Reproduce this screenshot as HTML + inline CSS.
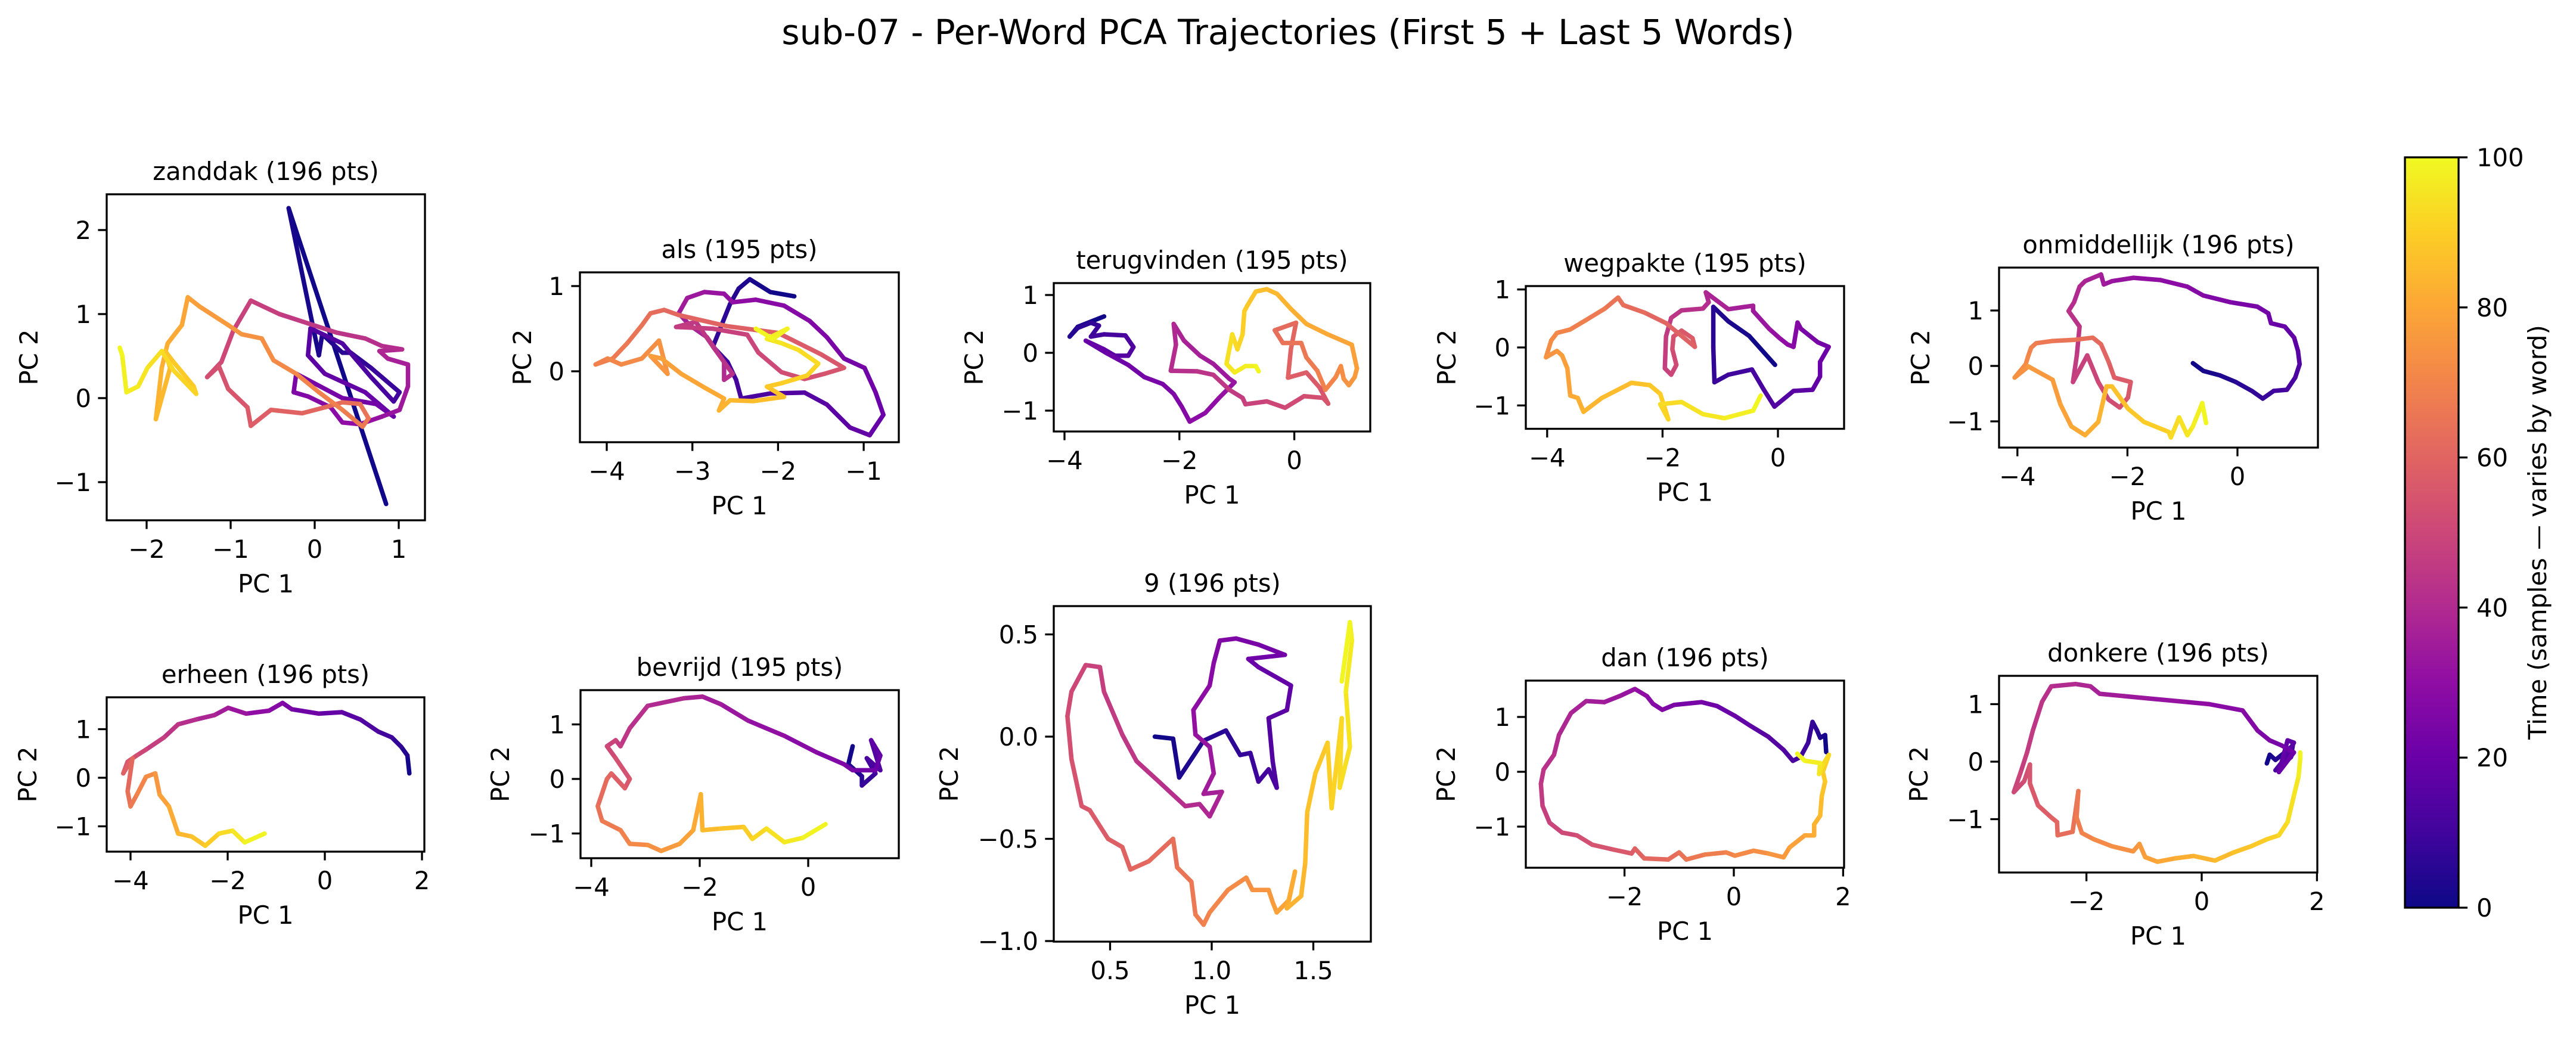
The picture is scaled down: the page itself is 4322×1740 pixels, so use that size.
<!DOCTYPE html>
<html><head><meta charset="utf-8">
<style>
html,body{margin:0;padding:0;background:#fff;}
svg{display:block;font-family:"DejaVu Sans","Liberation Sans",sans-serif;}
</style></head>
<body>
<svg id="fig" width="4322" height="1740" viewBox="0 0 4322 1740" xmlns="http://www.w3.org/2000/svg">
<rect width="4322" height="1740" fill="#fff"/>
<text x="2161" y="74" font-size="58" text-anchor="middle">sub-07 - Per-Word PCA Trajectories (First 5 + Last 5 Words)</text>
<defs>
<linearGradient id="plasma" x1="0" y1="1" x2="0" y2="0">
<stop offset="0" stop-color="#0d0887"/><stop offset="0.1" stop-color="#41049d"/><stop offset="0.2" stop-color="#6a00a8"/><stop offset="0.3" stop-color="#8f0da4"/><stop offset="0.4" stop-color="#b12a90"/><stop offset="0.5" stop-color="#cc4778"/><stop offset="0.6" stop-color="#e16462"/><stop offset="0.7" stop-color="#f2844b"/><stop offset="0.8" stop-color="#fca636"/><stop offset="0.9" stop-color="#fcce25"/><stop offset="1" stop-color="#f0f921"/>
</linearGradient>
</defs>
<g id="panels"></g>
<g>
<rect x="4035" y="264" width="90" height="1259" fill="url(#plasma)" stroke="#000" stroke-width="3.3"/>
<g id="cbticks"></g>
<text x="0" y="0" font-size="41.7" text-anchor="middle" transform="translate(4272,893) rotate(-90)">Time (samples — varies by word)</text>
</g>
</svg>
<script>
// ---- data (PC1 / PC2 trajectories per word) ----
const zanddakX=[0.85,-0.31,0.05,0.09,0.33,0.43,0.67,1.01,0.94,0.67,0.33,-0.05,-0.08,0.12,0.6,0.94,0.73,0.33,-0.22,-0.25,-0.08,0.19,0.33,0.54,0.8,1.01,1.11,1.11,0.87,0.77,1.04,0.8,0.6,0.26,-0.08,-0.42,-0.76,-0.97,-1.11,-1.28,-1.14,-1.03,-0.8,-0.76,-0.52,-0.15,0.12,0.33,0.54,0.64,0.57,0.33,0.05,-0.22,-0.49,-0.63,-0.87,-1.03,-1.37,-1.51,-1.58,-1.75,-1.82,-1.89,-1.72,-1.78,-1.68,-1.44,-1.41,-1.68,-1.82,-1.99,-2.1,-2.24,-2.29,-2.32];
const zanddakY=[-1.26,2.26,0.51,0.76,0.54,0.54,0.36,0.07,-0.04,0.25,0.65,0.83,0.51,0.29,0.07,-0.22,-0.07,0,0.29,0.07,0.02,-0.11,-0.29,-0.31,-0.22,-0.14,0.14,0.4,0.47,0.56,0.58,0.62,0.71,0.78,0.89,1.0,1.16,0.8,0.43,0.25,0.38,0.11,-0.11,-0.33,-0.14,-0.18,-0.11,-0.05,-0.07,-0.24,-0.34,-0.14,0.07,0.29,0.45,0.71,0.76,0.87,1.09,1.2,0.87,0.65,0.36,-0.25,0.36,0.56,0.43,0.14,0.05,0.33,0.56,0.36,0.14,0.07,0.51,0.6];
const alsX=[-1.81,-2.09,-2.33,-2.46,-2.56,-2.66,-2.76,-2.59,-2.49,-2.43,-2.09,-1.69,-1.43,-1.16,-0.93,-0.77,-0.86,-0.99,-1.23,-1.43,-1.63,-1.93,-2.26,-2.53,-2.63,-2.86,-3.06,-3.16,-3.03,-2.83,-2.63,-2.63,-2.53,-2.76,-2.96,-3.19,-2.76,-2.36,-2.23,-1.96,-1.69,-1.46,-1.23,-1.5,-2.0,-2.6,-3.16,-3.33,-3.49,-3.59,-3.76,-3.93,-4.13,-3.99,-3.83,-3.59,-3.39,-3.29,-3.49,-3.36,-3.13,-2.86,-2.63,-2.69,-2.56,-2.29,-1.93,-2.13,-1.96,-1.66,-1.53,-1.76,-1.96,-2.13,-1.89,-2.06,-2.26];
const alsY=[0.88,0.93,1.08,0.97,0.79,0.54,0.29,0.11,-0.1,-0.32,-0.26,-0.25,-0.39,-0.66,-0.75,-0.51,-0.25,0.04,0.15,0.4,0.59,0.77,0.84,0.81,0.91,0.93,0.86,0.68,0.54,0.4,0.11,-0.1,-0.03,0.29,0.58,0.52,0.5,0.43,0.22,-0.01,-0.09,-0.03,0.04,0.2,0.45,0.53,0.66,0.72,0.68,0.54,0.33,0.15,0.08,0.15,0.08,0.15,0.36,-0.03,0.18,0.15,-0.03,-0.19,-0.32,-0.46,-0.34,-0.35,-0.3,-0.18,-0.14,-0.05,0.09,0.25,0.33,0.38,0.5,0.38,0.5];
const terugX=[-3.31,-3.54,-3.77,-3.91,-3.77,-3.54,-3.4,-3.54,-3.31,-2.94,-2.8,-2.89,-3.12,-3.31,-3.63,-3.26,-2.89,-2.61,-2.29,-2.1,-1.96,-1.82,-1.55,-1.31,-1.04,-1.13,-1.41,-1.64,-1.92,-2.1,-2.06,-2.15,-1.69,-1.41,-1.13,-0.9,-0.85,-0.48,-0.16,0.17,0.5,0.59,0.44,0.21,-0.11,-0.06,0.03,-0.34,-0.2,0.12,0.21,0.4,0.54,0.72,0.81,0.86,0.95,1.05,1.09,1.0,0.58,0.21,-0.06,-0.3,-0.48,-0.67,-0.81,-0.87,-0.9,-0.99,-1.08,-1.18,-1.04,-0.85,-0.67,-0.62];
const terugY=[0.63,0.54,0.45,0.28,0.43,0.52,0.47,0.28,0.32,0.3,0.1,-0.05,-0.05,0.06,0.21,-0.01,-0.21,-0.42,-0.54,-0.71,-0.93,-1.19,-1.04,-0.78,-0.51,-0.45,-0.19,-0.05,0.21,0.5,0.14,-0.31,-0.32,-0.38,-0.64,-0.78,-0.89,-0.84,-0.95,-0.75,-0.78,-0.88,-0.6,-0.34,-0.43,0.06,0.52,0.39,0.17,0.17,-0.08,-0.31,-0.64,-0.42,-0.23,-0.45,-0.56,-0.42,-0.27,0.14,0.32,0.5,0.76,1.02,1.1,1.06,0.83,0.72,0.32,0.06,0.32,-0.19,-0.34,-0.23,-0.23,-0.32];
const wegpakteX=[-0.05,-0.5,-0.86,-1.12,-1.12,-1.1,-0.86,-0.45,-0.25,-0.06,0.27,0.6,0.73,0.73,0.88,0.69,0.4,0.34,0.27,0.17,0.03,-0.15,-0.43,-0.43,-0.86,-1.25,-1.2,-1.3,-1.67,-1.85,-1.94,-1.96,-1.85,-1.76,-1.83,-1.81,-1.67,-1.48,-1.44,-1.94,-2.31,-2.68,-2.77,-3.0,-3.33,-3.6,-3.83,-3.93,-4.02,-3.83,-3.74,-3.65,-3.6,-3.47,-3.37,-3.05,-2.54,-2.22,-2.04,-1.9,-2.04,-1.67,-1.3,-0.93,-0.43,-0.3];
const wegpakteY=[-0.3,0.2,0.45,0.7,0.0,-0.6,-0.47,-0.38,-0.72,-1.02,-0.75,-0.73,-0.5,-0.25,0.01,0.09,0.32,0.43,0.01,0.05,0.16,0.32,0.63,0.72,0.66,0.95,0.78,0.67,0.64,0.51,0.19,-0.36,-0.47,-0.3,-0.03,0.19,0.29,0.16,0.01,0.42,0.6,0.73,0.86,0.67,0.47,0.31,0.25,0.12,-0.17,-0.06,-0.14,-0.36,-0.83,-0.87,-1.11,-0.87,-0.61,-0.65,-0.8,-1.24,-0.98,-0.94,-1.15,-1.22,-1.09,-0.83];
const onmidX=[-0.81,-0.62,-0.32,-0.03,0.26,0.46,0.66,0.9,1.05,1.13,1.1,1.03,0.86,0.61,0.56,0.36,-0.13,-0.62,-0.91,-1.4,-1.89,-2.28,-2.43,-2.48,-2.77,-2.87,-2.97,-3.07,-2.87,-2.92,-2.99,-2.73,-2.53,-2.34,-2.14,-1.99,-1.94,-2.24,-2.34,-2.48,-2.63,-2.97,-3.36,-3.66,-3.75,-3.8,-3.85,-4.05,-3.8,-3.36,-3.22,-3.02,-2.77,-2.53,-2.38,-2.28,-1.99,-1.7,-1.25,-1.21,-1.06,-0.91,-0.81,-0.64,-0.57];
const onmidY=[0.05,-0.09,-0.17,-0.29,-0.45,-0.59,-0.45,-0.43,-0.21,0.03,0.27,0.51,0.71,0.77,0.95,1.07,1.15,1.27,1.43,1.55,1.59,1.53,1.47,1.65,1.53,1.43,1.15,0.99,0.71,0.19,-0.29,0.19,-0.29,-0.61,-0.75,-0.57,-0.29,-0.21,0.07,0.39,0.51,0.47,0.45,0.41,0.33,0.19,0.03,-0.21,-0.01,-0.25,-0.69,-1.09,-1.25,-1.01,-0.37,-0.37,-0.77,-1.01,-1.19,-1.29,-0.93,-1.25,-1.09,-0.67,-1.03];
const erheenX=[1.74,1.7,1.57,1.38,1.1,0.73,0.35,-0.12,-0.68,-0.87,-1.15,-1.62,-1.99,-2.27,-2.65,-3.02,-3.31,-3.68,-3.87,-4.06,-4.15,-3.96,-4.06,-4.0,-3.87,-3.68,-3.49,-3.4,-3.21,-3.02,-2.74,-2.46,-2.18,-1.9,-1.65,-1.24];
const erheenY=[0.09,0.46,0.64,0.83,0.95,1.2,1.35,1.32,1.41,1.54,1.38,1.32,1.44,1.29,1.2,1.1,0.83,0.58,0.46,0.33,0.09,0.4,-0.28,-0.59,-0.35,0.02,0.09,-0.35,-0.59,-1.15,-1.21,-1.4,-1.15,-1.09,-1.33,-1.15];
const bevrijdX=[0.82,0.74,0.99,0.99,1.24,1.08,1.33,1.16,1.33,1.24,0.82,0.66,0.15,-0.44,-1.11,-1.61,-1.95,-2.29,-2.96,-3.29,-3.46,-3.55,-3.71,-3.55,-3.29,-3.38,-3.63,-3.71,-3.88,-3.8,-3.46,-3.29,-2.96,-2.71,-2.37,-2.12,-1.98,-1.95,-1.61,-1.19,-1.03,-0.77,-0.44,-0.1,0.32];
const bevrijdY=[0.6,0.27,0.05,-0.12,0.1,0.38,0.16,0.71,0.43,0.16,0.16,0.27,0.49,0.79,1.07,1.37,1.51,1.48,1.34,0.93,0.6,0.71,0.6,0.38,0.0,-0.17,0.1,0.0,-0.5,-0.77,-0.94,-1.19,-1.21,-1.32,-1.19,-0.94,-0.28,-0.94,-0.91,-0.88,-1.1,-0.91,-1.16,-1.08,-0.83];
const nineX=[0.72,0.81,0.84,0.96,1.07,1.14,1.19,1.23,1.28,1.32,1.3,1.28,1.37,1.39,1.23,1.18,1.36,1.23,1.12,1.04,1.01,0.99,0.91,0.92,0.99,1.01,0.96,1.05,0.99,0.94,0.87,0.74,0.63,0.56,0.47,0.45,0.38,0.31,0.29,0.31,0.36,0.4,0.49,0.56,0.6,0.69,0.81,0.83,0.9,0.92,0.96,0.99,1.08,1.17,1.2,1.28,1.3,1.32,1.38,1.41,1.37,1.44,1.46,1.47,1.51,1.57,1.59,1.64,1.63,1.68,1.66,1.69,1.68,1.64];
const nineY=[0.0,-0.01,-0.2,-0.02,0.03,-0.09,-0.08,-0.22,-0.16,-0.25,-0.12,0.09,0.13,0.25,0.34,0.38,0.4,0.45,0.48,0.47,0.36,0.25,0.13,0.01,-0.05,-0.18,-0.28,-0.27,-0.39,-0.33,-0.34,-0.22,-0.12,0.01,0.22,0.34,0.35,0.22,0.1,-0.11,-0.34,-0.36,-0.5,-0.54,-0.65,-0.61,-0.5,-0.64,-0.71,-0.87,-0.92,-0.86,-0.75,-0.69,-0.75,-0.75,-0.81,-0.86,-0.8,-0.66,-0.84,-0.78,-0.62,-0.37,-0.18,-0.03,-0.35,0.09,-0.25,-0.05,0.22,0.47,0.56,0.27];
const danX=[1.69,1.67,1.58,1.52,1.44,1.36,1.22,1.08,0.91,0.63,0.3,0.02,-0.31,-0.59,-1.09,-1.31,-1.48,-1.59,-1.81,-2.09,-2.37,-2.7,-2.98,-3.2,-3.29,-3.48,-3.53,-3.5,-3.37,-3.14,-2.87,-2.59,-2.2,-1.87,-1.81,-1.64,-1.2,-1.0,-0.87,-0.53,-0.14,0.02,0.36,0.63,0.91,1.02,1.3,1.47,1.47,1.58,1.61,1.67,1.63,1.74,1.63,1.56,1.58,1.3,1.16];
const danY=[0.36,0.67,0.62,0.76,0.91,0.53,0.27,0.2,0.4,0.64,0.84,1.02,1.2,1.27,1.22,1.13,1.24,1.38,1.51,1.38,1.27,1.29,1.07,0.67,0.31,0.04,-0.22,-0.62,-0.93,-1.11,-1.16,-1.33,-1.42,-1.49,-1.4,-1.58,-1.6,-1.47,-1.6,-1.51,-1.47,-1.53,-1.44,-1.49,-1.56,-1.38,-1.16,-1.16,-0.96,-0.8,-0.44,-0.18,0.0,0.31,0.13,-0.04,0.16,0.2,0.33];
const donkereX=[1.13,1.18,1.28,1.44,1.58,1.55,1.39,1.28,1.44,1.6,1.49,1.34,1.6,1.39,1.18,0.97,0.71,0.13,-0.29,-0.93,-1.35,-1.77,-1.93,-2.19,-2.61,-2.77,-2.93,-3.03,-3.14,-3.26,-3.08,-2.98,-2.98,-2.84,-2.61,-2.51,-2.5,-2.24,-2.14,-2.17,-2.08,-1.87,-1.56,-1.19,-1.08,-0.98,-0.77,-0.45,-0.14,0.23,0.55,0.86,1.13,1.34,1.49,1.6,1.68,1.71,1.71];
const donkereY=[-0.03,0.12,0.03,0.16,0.28,0.08,-0.05,-0.15,0.05,0.33,0.37,-0.18,0.16,0.28,0.37,0.54,0.89,1.0,1.04,1.1,1.14,1.18,1.31,1.35,1.31,1.04,0.54,0.16,-0.18,-0.53,-0.34,-0.05,-0.38,-0.76,-0.97,-1.05,-1.28,-1.22,-0.51,-0.97,-1.24,-1.35,-1.47,-1.56,-1.43,-1.66,-1.74,-1.68,-1.64,-1.72,-1.58,-1.47,-1.35,-1.28,-1.05,-0.59,-0.26,0.05,0.16];
// tick values
const ticksX1=[-2,-1,0,1], ticksY1=[-1,0,1,2];
const ticksX2=[-4,-3,-2,-1], ticksY2=[0,1];
const ticksX4=[-4,-2,0], ticksY3=[-1,0,1];
const ticksX6=[-4,-2,0,2];
const ticksX9=[0.5,1.0,1.5], ticksY9=[-1.0,-0.5,0.0,0.5];
const ticksXd=[-2,0,2];
const cbTicks=[0,20,40,60,80,100];

const SVGNS="http://www.w3.org/2000/svg";
const stops=[[13,8,135],[65,4,157],[106,0,168],[143,13,164],[177,42,144],[204,71,120],[225,100,98],[242,132,75],[252,166,54],[252,206,37],[240,249,33]];
function plasma(t){t=Math.max(0,Math.min(1,t))*10;const i=Math.min(9,Math.floor(t)),f=t-i;const a=stops[i],b=stops[i+1];
return "rgb("+a.map((v,k)=>Math.round(v+(b[k]-v)*f)).join(",")+")";}
function el(tag,attrs,parent){const e=document.createElementNS(SVGNS,tag);for(const k in attrs)e.setAttribute(k,attrs[k]);parent.appendChild(e);return e;}
function fmt(v,dec){let s=dec?v.toFixed(dec):String(v);return s.replace("-","\u2212");}

const panels=[
 {name:"zanddak",title:"zanddak (196 pts)",X:zanddakX,Y:zanddakY,box:[179,326,713,873],xc:[0,528,141],yc:[0,668,141],tx:ticksX1,ty:ticksY1,yl:131,dec:0},
 {name:"als",title:"als (195 pts)",X:alsX,Y:alsY,box:[973,457,1508,742],xc:[-4,1018,143.7],yc:[0,623,143],tx:ticksX2,ty:ticksY2,yl:97,dec:0},
 {name:"terugvinden",title:"terugvinden (195 pts)",X:terugX,Y:terugY,box:[1768,475,2299,724],xc:[0,2171.6,96.4],yc:[0,592,97],tx:ticksX4,ty:ticksY3,yl:134,dec:0},
 {name:"wegpakte",title:"wegpakte (195 pts)",X:wegpakteX,Y:wegpakteY,box:[2560,480,3094,719.5],xc:[0,2983,96.8],yc:[0,583,97.3],tx:ticksX4,ty:ticksY3,yl:133,dec:0},
 {name:"onmiddellijk",title:"onmiddellijk (196 pts)",X:onmidX,Y:onmidY,box:[3354,449,3889,751],xc:[0,3754,92.3],yc:[0,614,93],tx:ticksX4,ty:ticksY3,yl:132,dec:0},
 {name:"erheen",title:"erheen (196 pts)",X:erheenX,Y:erheenY,box:[179,1170,712,1429],xc:[0,545,81.5],yc:[0,1305,81.5],tx:ticksX6,ty:ticksY3,yl:133,dec:0},
 {name:"bevrijd",title:"bevrijd (195 pts)",X:bevrijdX,Y:bevrijdY,box:[974,1158,1508,1440],xc:[0,1356,91],yc:[0,1307,91.5],tx:ticksX4,ty:ticksY3,yl:135,dec:0},
 {name:"nine",title:"9 (196 pts)",X:nineX,Y:nineY,box:[1768,1017,2300,1580],xc:[1.0,2033,341],yc:[0,1236,343],tx:ticksX9,ty:ticksY9,yl:176,dec:1},
 {name:"dan",title:"dan (196 pts)",X:danX,Y:danY,box:[2560,1142,3094,1456],xc:[0,2909,91.7],yc:[0,1295,92],tx:ticksXd,ty:ticksY3,yl:134,dec:0},
 {name:"donkere",title:"donkere (196 pts)",X:donkereX,Y:donkereY,box:[3354,1134,3888,1464],xc:[0,3694,96.7],yc:[0,1278,96.5],tx:ticksXd,ty:ticksY3,yl:135,dec:0}
];
const root=document.getElementById("panels");
panels.forEach(p=>{
 const [l,t,r,b]=p.box;
 const sx=v=>p.xc[1]+(v-p.xc[0])*p.xc[2];
 const sy=v=>p.yc[1]-(v-p.yc[0])*p.yc[2];
 const g=el("g",{},root);
 
 
 const cid="clip-"+p.name;
 const cp=el("clipPath",{id:cid},g);el("rect",{x:l,y:t,width:r-l,height:b-t},cp);
 const lines=el("g",{"clip-path":"url(#"+cid+")","stroke-linecap":"round","stroke-linejoin":"round",fill:"none"},g);
 
 
 const n=p.X.length;
 for(let i=0;i<n-1;i++){
  const seg=el("line",{x1:sx(p.X[i]),y1:sy(p.Y[i]),x2:sx(p.X[i+1]),y2:sy(p.Y[i+1]),stroke:plasma((i+0.5)/(n-1)),"stroke-width":7.5},lines);
  
  
 }
 const frame=el("rect",{x:l,y:t,width:r-l,height:b-t,fill:"none",stroke:"#000","stroke-width":3.3},g);
 
 
 p.tx.forEach(v=>{const x=sx(v);
  el("line",{x1:x,y1:b,x2:x,y2:b+14.6,stroke:"#000","stroke-width":3.3},g);
  const tl=el("text",{x:x,y:b+63,"font-size":41.7,"text-anchor":"middle"},g);tl.textContent=fmt(v,p.dec);
  
  
 });
 p.ty.forEach(v=>{const y=sy(v);
  el("line",{x1:l-14.6,y1:y,x2:l,y2:y,stroke:"#000","stroke-width":3.3},g);
  const tl=el("text",{x:l-26,y:y+15,"font-size":41.7,"text-anchor":"end"},g);tl.textContent=fmt(v,p.dec);
  
  
 });
 const tt=el("text",{x:(l+r)/2,y:t-24,"font-size":41.7,"text-anchor":"middle"},g);tt.textContent=p.title;
 
 
 const xl=el("text",{x:(l+r)/2,y:b+121,"font-size":41.7,"text-anchor":"middle"},g);xl.textContent="PC 1";
 
 
 const yl=el("text",{x:0,y:0,"font-size":41.7,"text-anchor":"middle",transform:"translate("+(l-p.yl+15)+","+((t+b)/2)+") rotate(-90)"},g);yl.textContent="PC 2";
 
 
});
const cb=document.getElementById("cbticks");
cbTicks.forEach(v=>{const y=1523-(v/100)*1259;
 el("line",{x1:4125,y1:y,x2:4140,y2:y,stroke:"#000","stroke-width":3.3},cb);
 const tl=el("text",{x:4155,y:y+15,"font-size":41.7},cb);tl.textContent=String(v);
 
 
});
</script>
</body></html>
